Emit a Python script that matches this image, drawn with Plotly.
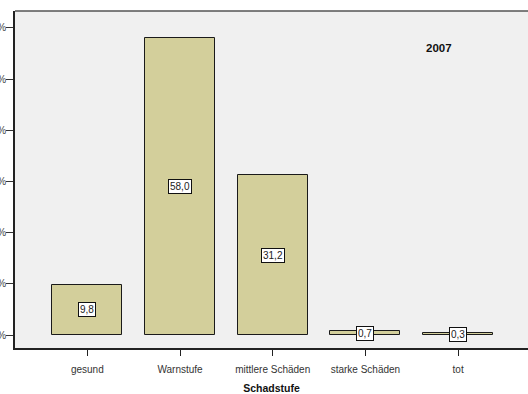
import plotly.graph_objects as go

# Schadstufen and their shares (percent) for 2007
categories = ["gesund", "Warnstufe", "mittlere Schäden", "starke Schäden", "tot"]
percentages = [9.8, 58.0, 31.2, 0.7, 0.3]
y_ticks = [0, 10, 20, 30, 40, 50, 60]
y_tick_labels = [f"{v}%" for v in y_ticks]
year_label = "2007"
x_title = "Schadstufe"

positions = list(range(len(categories)))

fig = go.Figure()
fig.add_trace(go.Bar(
    x=positions,
    y=percentages,
    width=0.755,
    marker=dict(color="#D3CF9B", line=dict(color="#1a1a1a", width=1)),
    hoverinfo="skip",
))

# value labels in white boxes, centred on each bar
for xi, v in zip(positions, percentages):
    fig.add_annotation(
        x=xi, y=v / 2, xref="x", yref="y",
        text=f"{v:.1f}".replace(".", ","),
        showarrow=False,
        font=dict(family="Liberation Sans, Arial", size=10, color="#222222"),
        bgcolor="white", bordercolor="#111111", borderwidth=1, borderpad=1,
    )

fig.add_annotation(
    x=0.855, y=0.913, xref="paper", yref="paper",
    text=f"<b>{year_label}</b>", showarrow=False,
    font=dict(family="Liberation Sans, Arial", size=11.5, color="#111111"),
)

# top border of the plot frame
fig.add_shape(type="line", xref="paper", yref="paper", x0=0, x1=1, y0=1, y1=1,
              line=dict(color="#555555", width=1.5))

fig.update_layout(
    width=528, height=394,
    margin=dict(l=15, r=0, t=11, b=46, autoexpand=False),
    paper_bgcolor="white",
    plot_bgcolor="#F0F0F0",
    showlegend=False,
    bargap=0,
    font=dict(family="Liberation Sans, Arial", size=10, color="#222222"),
)
fig.update_xaxes(
    range=[-0.78, 4.754],
    tickmode="array", tickvals=positions, ticktext=categories,
    ticks="outside", ticklen=6, tickwidth=1.2, tickcolor="#222222",
    ticklabelstandoff=5,
    showline=True, linecolor="#222222", linewidth=2,
    showgrid=False, zeroline=False, automargin=False,
    title=dict(text=f"<b>{x_title}</b>", font=dict(size=10.5, color="#111111"), standoff=14),
    tickfont=dict(size=10, color="#333333"),
)
fig.update_yaxes(
    range=[-2.54, 63.3],
    tickmode="array", tickvals=y_ticks, ticktext=y_tick_labels,
    ticks="outside", ticklen=7, tickwidth=1.2, tickcolor="#333333",
    ticklabelstandoff=-2,
    showline=True, linecolor="#222222", linewidth=1.5,
    showgrid=False, zeroline=False, automargin=False,
    tickfont=dict(size=10, color="#444444"),
)

fig.write_html("out.html")
